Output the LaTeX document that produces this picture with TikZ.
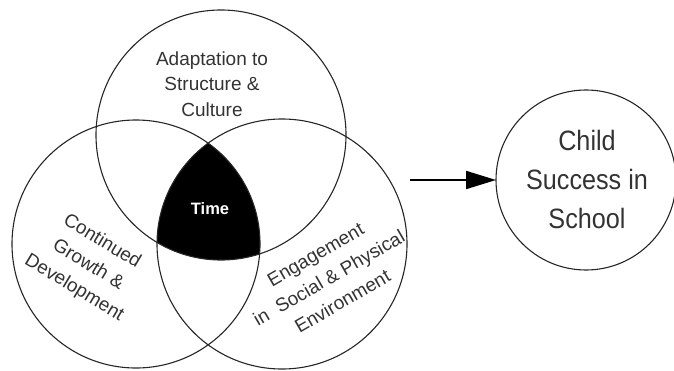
\documentclass[tikz,border=0pt]{standalone}
\usepackage{fontspec}
\setmainfont{Liberation Sans}
\newfontfamily\narrowfont[FakeStretch=0.9]{Liberation Sans}
\usetikzlibrary{arrows.meta}
\begin{document}
\begin{tikzpicture}[x=1pt,y=1pt,
  ring/.style={circle, draw=black!85, line width=1.1pt, inner sep=0pt, outer sep=0pt},
  lbl/.style={text=black!80, align=center, inner sep=0pt, font=\fontsize{19}{27}\selectfont},
  flow/.style={line width=2pt, draw=black, -{Triangle[length=30pt,width=18pt]}}
]
\useasboundingbox (0,0) rectangle (674,370);
% filled centre (intersection of the three circles)
\begin{scope}
  \clip (221,235) circle (125);
  \clip (136,126) circle (124);
  \fill[black] (282,126) circle (125);
\end{scope}
\node[ring, minimum size=250pt] (topc) at (221,235) {};
\node[ring, minimum size=248pt] (leftc) at (136,126) {};
\node[ring, minimum size=250pt] (rightc) at (282,126) {};
\node[ring, minimum size=180pt] (child) at (586,190) {};

\node[lbl, font=\fontsize{19}{25.5}\selectfont] (adapt) at (212,286) {Adaptation to\\Structure \&\\Culture};
\node[lbl, rotate=-31] (growth) at (88,105) {Continued\\Growth \&\\Development};
\node[lbl, rotate=30] (engage) at (329,92) {Engagement\\in\ \ Social \& Physical\\Environment};
\node[text=white, inner sep=0pt, font=\bfseries\fontsize{16.5}{18}\selectfont] (time) at (210,161) {Time};
\node[text=black!80, align=center, inner sep=0pt, font=\narrowfont\fontsize{28}{39}\selectfont] (childtxt) at (587,191) {Child\\Success in\\School};

\coordinate (src) at (410,190);
\draw[flow] (src) -- (child.west);
\end{tikzpicture}
\end{document}
